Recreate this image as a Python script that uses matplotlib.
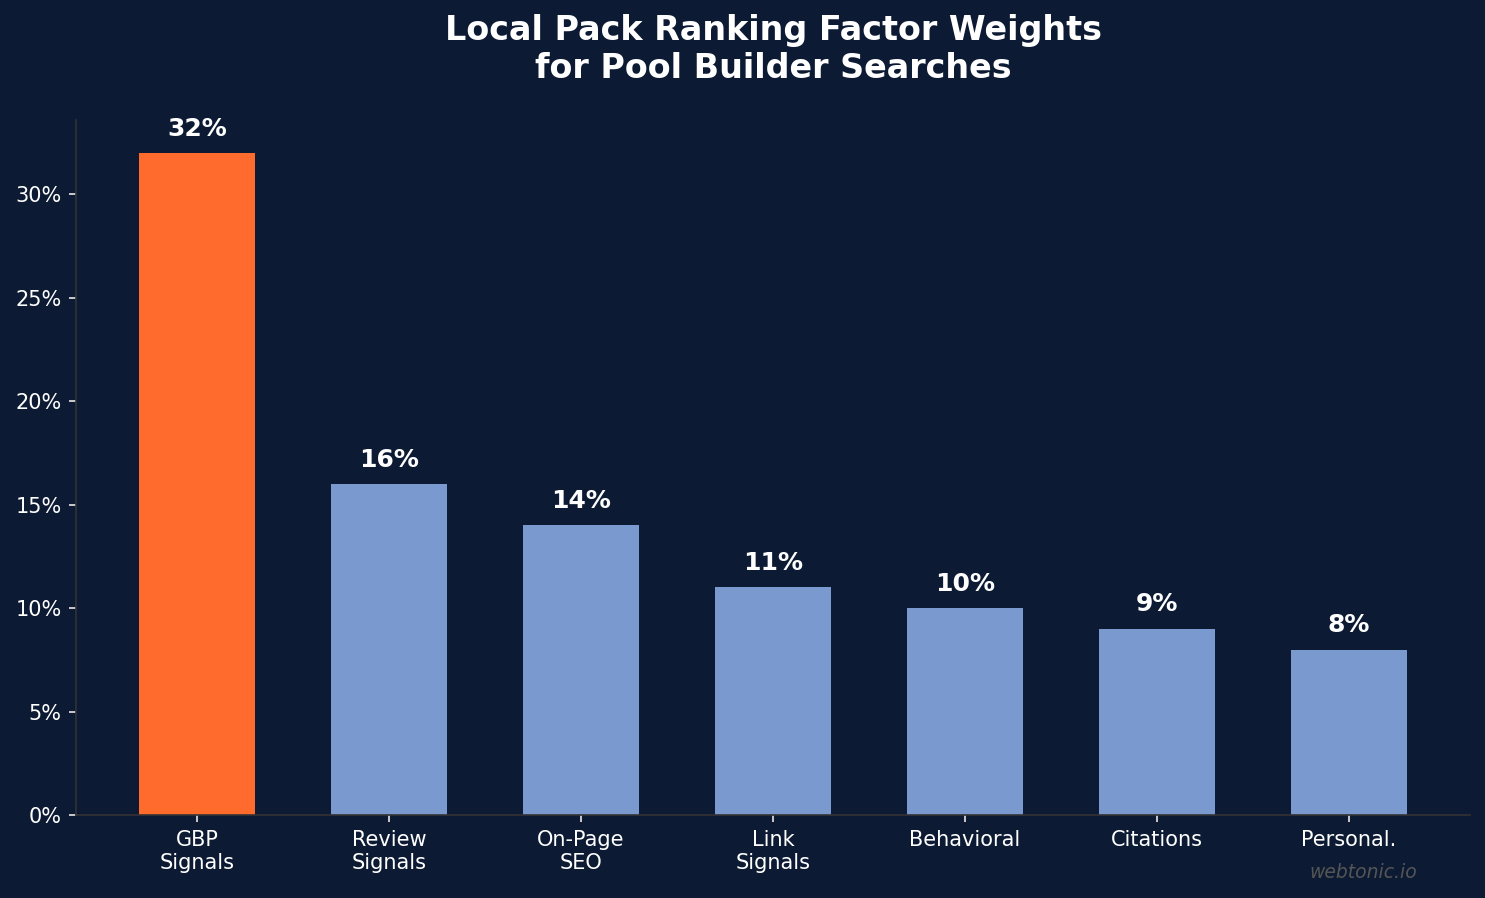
import matplotlib
matplotlib.use("Agg")
from matplotlib import pyplot as plt
from matplotlib.ticker import FuncFormatter

categories = ['GBP\nSignals', 'Review\nSignals', 'On-Page\nSEO', 'Link\nSignals',
              'Behavioral', 'Citations', 'Personal.']
weights = [32, 16, 14, 11, 10, 9, 8]

bg = '#0c1b33'
orange = '#ff6b2c'
blue = '#7a9acf'

fig = plt.figure(figsize=(9.9, 5.9867), dpi=150, facecolor=bg)
ax = fig.add_axes([0.0512, 0.0924, 0.9387, 0.774])
ax.set_facecolor(bg)

colors = [orange] + [blue] * (len(weights) - 1)
x = list(range(len(categories)))
ax.bar(x, weights, width=0.6, color=colors)

# labels above bars
for xi, v in zip(x, weights):
    ax.text(xi, v + 0.6, f'{v}%', ha='center', va='bottom',
            color='white', fontsize=12, fontweight='bold')

ax.set_xticks(x)
ax.set_xticklabels(categories)
ax.yaxis.set_major_formatter(FuncFormatter(lambda v, p: f'{v:.0f}%'))
ax.tick_params(colors='#e8e8e8', labelsize=10, labelcolor='white')

for s in ['top', 'right']:
    ax.spines[s].set_visible(False)
for s in ['left', 'bottom']:
    ax.spines[s].set_color('#333333')

ax.set_title('Local Pack Ranking Factor Weights\nfor Pool Builder Searches',
             color='white', fontsize=16, fontweight='bold', pad=20)

fig.text(0.918, 0.028, 'webtonic.io', color='#555555', fontsize=9,
         style='italic', ha='center', va='center')

fig.savefig('out.png', dpi=150, facecolor=bg)
